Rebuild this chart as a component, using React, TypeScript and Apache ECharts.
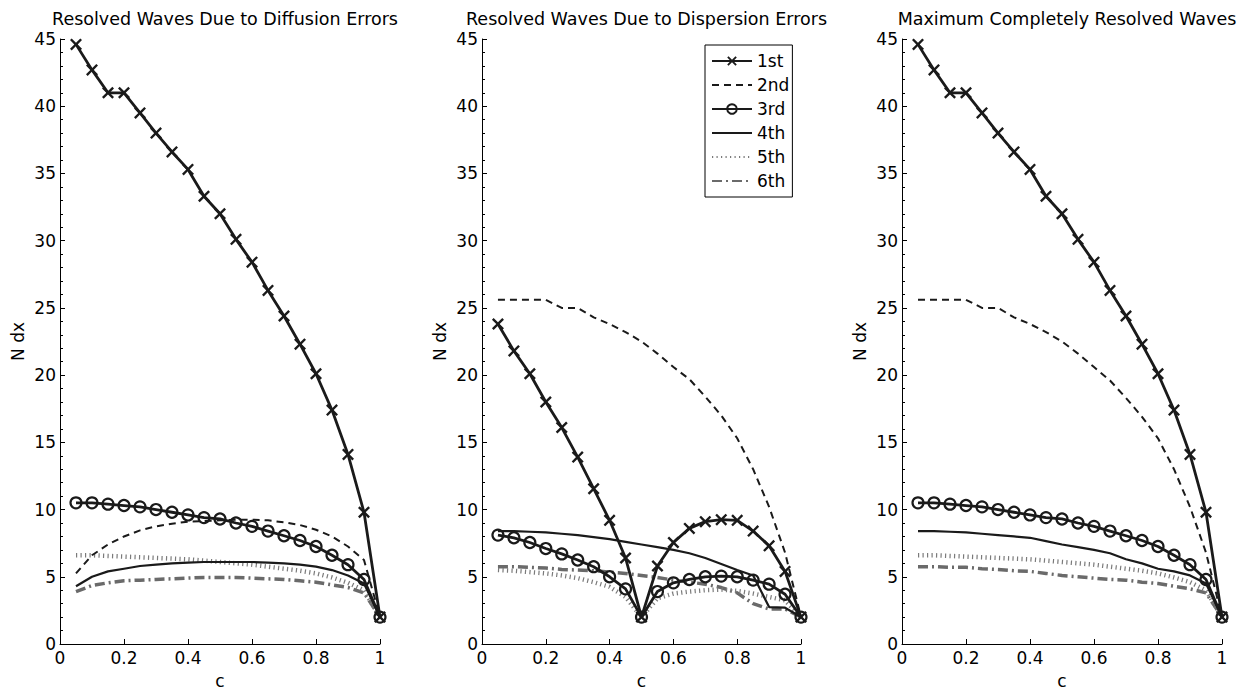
import React, { useEffect, useRef } from "react";
import * as echarts from "echarts";

const C = [0.05, 0.1, 0.15, 0.2, 0.25, 0.3, 0.35, 0.4, 0.45, 0.5, 0.55, 0.6, 0.65, 0.7, 0.75, 0.8, 0.85, 0.9, 0.95, 1.0];
const ORDERS = ["1st", "2nd", "3rd", "4th", "5th", "6th"];
const TITLES = [
  "Resolved Waves Due to Diffusion Errors",
  "Resolved Waves Due to Dispersion Errors",
  "Maximum Completely Resolved Waves",
];
const X_TICKS = [0, 0.2, 0.4, 0.6, 0.8, 1];

// Panel 1: diffusion
const first1 = [44.6, 42.7, 41.0, 41.0, 39.5, 38.0, 36.6, 35.3, 33.3, 32.0, 30.1, 28.4, 26.3, 24.4, 22.3, 20.1, 17.4, 14.1, 9.8, 2.0];
const second1 = [5.25, 6.6, 7.4, 8.0, 8.45, 8.75, 8.95, 9.1, 9.15, 9.2, 9.25, 9.25, 9.2, 9.05, 8.85, 8.5, 8.0, 7.25, 6.25, 2.0];
const third1 = [10.5, 10.5, 10.4, 10.3, 10.2, 10.0, 9.8, 9.6, 9.4, 9.3, 9.0, 8.75, 8.4, 8.05, 7.7, 7.25, 6.6, 5.9, 4.8, 2.0];
const fourth1 = [4.3, 5.0, 5.4, 5.6, 5.8, 5.9, 6.0, 6.05, 6.1, 6.1, 6.1, 6.1, 6.05, 6.0, 5.9, 5.75, 5.5, 5.1, 4.5, 2.0];
const fifth1 = [6.6, 6.6, 6.55, 6.5, 6.45, 6.4, 6.35, 6.3, 6.2, 6.1, 6.0, 5.9, 5.75, 5.6, 5.45, 5.25, 4.95, 4.55, 4.0, 2.0];
const sixth1 = [3.9, 4.35, 4.55, 4.7, 4.75, 4.8, 4.85, 4.9, 4.95, 4.95, 4.95, 4.9, 4.85, 4.8, 4.7, 4.6, 4.4, 4.2, 3.8, 2.0];

// Panel 2: dispersion
const first2 = [23.8, 21.8, 20.1, 18.0, 16.1, 13.9, 11.55, 9.2, 6.4, 2.0, 5.8, 7.55, 8.6, 9.1, 9.25, 9.2, 8.4, 7.3, 5.4, 2.0];
const second2 = [25.6, 25.6, 25.6, 25.6, 25.0, 25.0, 24.3, 23.8, 23.2, 22.5, 21.6, 20.6, 19.7, 18.4, 17.0, 15.3, 13.0, 10.2, 6.8, 2.0];
const third2 = [8.1, 7.9, 7.55, 7.1, 6.7, 6.25, 5.75, 5.0, 4.1, 2.0, 3.9, 4.55, 4.8, 5.0, 5.05, 5.0, 4.75, 4.45, 3.7, 2.0];
const fourth2 = [8.4, 8.4, 8.35, 8.3, 8.2, 8.1, 7.95, 7.8, 7.6, 7.4, 7.2, 7.0, 6.75, 6.4, 5.95, 5.5, 5.1, 2.75, 2.7, 2.0];
const fifth2 = [5.5, 5.45, 5.35, 5.25, 5.1, 4.9, 4.6, 4.25, 3.5, 2.0, 3.4, 3.75, 3.9, 4.0, 4.05, 3.95, 3.75, 3.5, 3.25, 2.0];
const sixth2 = [5.75, 5.75, 5.7, 5.65, 5.55, 5.5, 5.45, 5.35, 5.25, 5.1, 4.95, 4.75, 4.6, 4.45, 4.2, 3.8, 3.0, 2.6, 2.6, 2.0];

// Panel 3: maximum
const first3 = [44.6, 42.7, 41.0, 41.0, 39.5, 38.0, 36.6, 35.3, 33.3, 32.0, 30.1, 28.4, 26.3, 24.4, 22.3, 20.1, 17.4, 14.1, 9.8, 2.0];
const second3 = [25.6, 25.6, 25.6, 25.6, 25.0, 25.0, 24.3, 23.8, 23.2, 22.5, 21.6, 20.6, 19.6, 18.3, 16.9, 15.3, 13.0, 10.2, 6.8, 2.0];
const third3 = [10.5, 10.5, 10.4, 10.3, 10.2, 10.0, 9.8, 9.6, 9.4, 9.3, 9.0, 8.75, 8.4, 8.05, 7.7, 7.25, 6.6, 5.9, 4.8, 2.0];
const fourth3 = [8.4, 8.4, 8.35, 8.3, 8.2, 8.1, 8.0, 7.9, 7.65, 7.4, 7.2, 7.0, 6.75, 6.3, 6.0, 5.6, 5.4, 5.1, 4.5, 2.0];
const fifth3 = [6.6, 6.6, 6.55, 6.5, 6.45, 6.4, 6.35, 6.3, 6.2, 6.1, 6.0, 5.9, 5.75, 5.6, 5.45, 5.25, 4.95, 4.6, 4.0, 2.0];
const sixth3 = [5.75, 5.75, 5.7, 5.7, 5.6, 5.55, 5.45, 5.4, 5.25, 5.1, 5.0, 4.9, 4.8, 4.75, 4.6, 4.5, 4.3, 4.1, 3.8, 2.0];

const PANELS = [
  [first1, second1, third1, fourth1, fifth1, sixth1],
  [first2, second2, third2, fourth2, fifth2, sixth2],
  [first3, second3, third3, fourth3, fifth3, sixth3],
];

const FONT = "'DejaVu Sans', 'Liberation Sans', Arial, sans-serif";
const FS = 17;
const BLACK = "#1a1a1a";
const NONE = "rgba(0,0,0,0)";
const X_SYMBOL =
  "path://M1.4,0 L5,3.6 L8.6,0 L10,1.4 L6.4,5 L10,8.6 L8.6,10 L5,6.4 L1.4,10 L0,8.6 L3.6,5 L0,1.4 Z";

const GRIDS = [
  { left: 60, width: 320 },
  { left: 482, width: 319 },
  { left: 902, width: 320 },
];

const STYLES: any[] = [
  {
    symbol: X_SYMBOL,
    symbolSize: 12,
    showSymbol: true,
    itemStyle: { color: BLACK },
    lineStyle: { color: BLACK, width: 2.8, type: "solid" },
  },
  {
    symbol: "circle",
    showSymbol: false,
    itemStyle: { color: NONE },
    lineStyle: { color: BLACK, width: 2, type: [7, 5] },
  },
  {
    symbol: "circle",
    symbolSize: 11,
    showSymbol: true,
    itemStyle: { color: NONE, borderColor: BLACK, borderWidth: 2.2 },
    lineStyle: { color: BLACK, width: 2.8, type: "solid" },
  },
  {
    symbol: "circle",
    showSymbol: false,
    itemStyle: { color: NONE },
    lineStyle: { color: BLACK, width: 2.2, type: "solid" },
  },
  {
    symbol: "circle",
    showSymbol: false,
    itemStyle: { color: NONE },
    lineStyle: { color: "#7a7a7a", width: 4.5, type: [1.2, 3.3], cap: "butt" },
  },
  {
    symbol: "circle",
    showSymbol: false,
    itemStyle: { color: NONE },
    lineStyle: { color: "#6a6a6a", width: 3.5, type: [10, 4, 2, 4], cap: "butt" },
  },
];

export default function App() {
  const ref = useRef<HTMLDivElement>(null);
  useEffect(() => {
    if (!ref.current) return;
    const chart = echarts.init(ref.current, undefined, { renderer: "svg" });
    const grid = GRIDS.map((g) => ({
      left: g.left,
      width: g.width,
      top: 39,
      height: 605,
      containLabel: false,
      outerBoundsMode: "none",
    }));
    const xAxis = GRIDS.map((_, i) => ({
      type: "value",
      gridIndex: i,
      min: 0,
      max: 1,
      interval: 0.2,
      name: "c",
      nameLocation: "middle",
      nameGap: 28,
      nameTextStyle: { fontFamily: FONT, fontSize: FS, color: "#000" },
      axisLine: { show: true, lineStyle: { color: "#000", width: 1 } },
      axisTick: { show: true, inside: true, length: 5, lineStyle: { color: "#000" } },
      axisLabel: {
        fontFamily: FONT,
        fontSize: FS,
        color: "#000",
        margin: 5,
        formatter: (v: number) => {
          const t = X_TICKS.find((x) => Math.abs(x - v) < 1e-6);
          return t === undefined ? "" : String(t);
        },
      },
      splitLine: { show: false },
    }));
    const yAxis = GRIDS.map((_, i) => ({
      type: "value",
      gridIndex: i,
      min: 0,
      max: 45,
      interval: 5,
      name: "N dx",
      nameLocation: "middle",
      nameGap: 34,
      nameRotate: 90,
      nameTextStyle: { fontFamily: FONT, fontSize: FS, color: "#000" },
      axisLine: { show: true, lineStyle: { color: "#000", width: 1 } },
      axisTick: { show: true, inside: true, length: 5, lineStyle: { color: "#000" } },
      minorTick: { show: true, splitNumber: 5, length: 3, lineStyle: { color: "#000" } },
      axisLabel: { fontFamily: FONT, fontSize: FS, color: "#000", margin: 4 },
      splitLine: { show: false },
    }));
    const series: any[] = [];
    PANELS.forEach((panel, gi) => {
      panel.forEach((vals, si) => {
        series.push({
          type: "line",
          name: ORDERS[si],
          xAxisIndex: gi,
          yAxisIndex: gi,
          clip: false,
          z: 10 - si,
          data: C.map((c, k) => [c, vals[k]]),
          ...STYLES[si],
        });
      });
    });
    const title = GRIDS.map((g, i) => ({
      text: TITLES[i],
      left: g.left + g.width / 2,
      top: 5,
      textAlign: "center",
      textStyle: { fontFamily: FONT, fontSize: 17.5, fontWeight: "normal", color: "#000" },
    }));
    chart.setOption({
      animation: false,
      backgroundColor: "#fff",
      title,
      grid,
      xAxis,
      yAxis,
      series,
      legend: {
        data: ORDERS,
        orient: "vertical",
        left: 705,
        top: 45,
        itemWidth: 40,
        itemHeight: 12,
        itemGap: 6,
        itemTextGap: 5,
        selectedMode: false,
        padding: [7, 3, 7, 6],
        borderColor: "#000",
        borderWidth: 1,
        backgroundColor: "#fff",
        textStyle: { fontFamily: FONT, fontSize: FS, color: "#000", lineHeight: 18 },
      },
    });
    return () => chart.dispose();
  }, []);
  return (
    <div
      ref={ref}
      style={{ position: "fixed", left: 0, top: 0, width: 1252, height: 690, background: "#fff" }}
    />
  );
}
